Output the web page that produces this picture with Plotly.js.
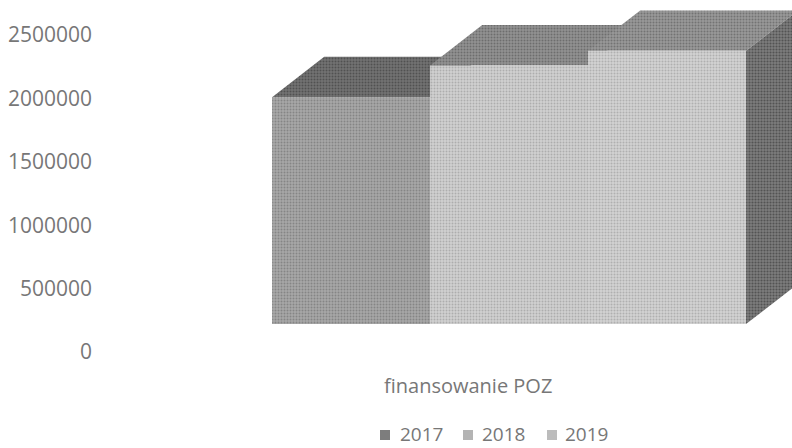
<!DOCTYPE html>
<html><head><meta charset="utf-8">
<script src="https://cdn.plot.ly/plotly-3.0.1.min.js"></script>
<style>html,body{margin:0;padding:0;background:#fff}</style></head>
<body><div id="chart" style="width:792px;height:448px"></div>
<script>
const years = ['2017','2018','2019'];
const values = [2010000, 2260000, 2375000];
const floorValue = 220000;
const category = 'finansowanie POZ';
const tickVals = [0,500000,1000000,1500000,2000000,2500000];
const frontColors = ['#a8a8a8','#d0d0d0','#d2d2d2'];
const frontDots = ['#626262','#8a8a8a','#8e8e8e'];
const topColors = ['#727272','#929292','#989898'];
const topDots = ['#303030','#484848','#4e4e4e'];
const swatchColors = ['#7d7d7d','#b4b4b4','#bcbcbc'];
const legendLeft = [380,463,547];
const legendText = [400,482,565];
const depthX = 0.33, depthY = 318000;
const yMax = 2776000;
const textColor = '#777777';
const font = {family:'"Open Sans",sans-serif', color:textColor, size:21};
const pat = (fg,bg,size,sol)=>({shape:'.',fgcolor:fg,bgcolor:bg,size:size,solidity:sol,fillmode:'overlay'});

const traces = [];
years.forEach((yr,i)=>{
  const l=i-0.5, r=i+0.5, v=values[i];
  traces.push({type:'scatter',mode:'none',fill:'toself',showlegend:false,hoverinfo:'skip',
    x:[l,r,r+depthX,l+depthX,l], y:[v,v,v+depthY,v+depthY,v],
    fillcolor:topColors[i], fillpattern:pat(topDots[i],topColors[i],3,0.35)});
});
const last=years.length-1, edge=last+0.5;
traces.push({type:'scatter',mode:'none',fill:'toself',showlegend:false,hoverinfo:'skip',
  x:[edge,edge+depthX,edge+depthX,edge,edge],
  y:[values[last],values[last]+depthY,floorValue+depthY,floorValue,values[last]],
  fillcolor:'#666', fillpattern:pat('#2a2a2a','#7c7c7c',3,0.4)});
years.forEach((yr,i)=>{
  traces.push({type:'bar',name:yr,x:[i],y:[values[i]-floorValue],base:[floorValue],width:1,
    xaxis:'x2',yaxis:'y2',showlegend:false,
    marker:{color:frontColors[i],line:{width:0},pattern:pat(frontDots[i],frontColors[i],3,0.35)}});
});
const xr=[-1.589,2.791];
const xDom=[100/792,1], yDom=[96/448,1];
const annotations=[{text:category,xref:'paper',yref:'paper',x:468/792,y:(448-385)/448,yanchor:'middle',xanchor:'center',
                showarrow:false,font:{size:20,color:textColor}}];
const shapes=[];
years.forEach((yr,i)=>{
  annotations.push({text:yr,xref:'paper',yref:'paper',x:legendText[i]/792,y:(448-434)/448,xanchor:'left',yanchor:'middle',
    showarrow:false,xshift:-2,font:{size:19,color:textColor}});
  shapes.push({type:'rect',xref:'paper',yref:'paper',x0:legendLeft[i]/792,x1:(legendLeft[i]+10)/792,
    y0:(448-440)/448,y1:(448-430)/448,fillcolor:swatchColors[i],line:{width:0}});
});
const layout={
  width:792,height:448,paper_bgcolor:'#fff',plot_bgcolor:'#fff',font:font,
  margin:{l:0,r:0,t:0,b:0},barmode:'overlay',showlegend:false,
  xaxis:{range:xr,domain:xDom,anchor:'y',visible:false,fixedrange:true},
  yaxis:{range:[0,yMax],domain:yDom,anchor:'x',tickmode:'array',tickvals:tickVals,ticktext:tickVals.map(String),
         showgrid:false,zeroline:false,showline:false,ticks:'',ticklabelstandoff:7},
  xaxis2:{range:xr,domain:xDom,anchor:'y2',visible:false,overlaying:'x'},
  yaxis2:{range:[0,yMax],domain:yDom,anchor:'x2',visible:false,overlaying:'y'},
  annotations:annotations,shapes:shapes
};
Plotly.newPlot('chart',traces,layout,{staticPlot:true,displayModeBar:false});
</script></body></html>
